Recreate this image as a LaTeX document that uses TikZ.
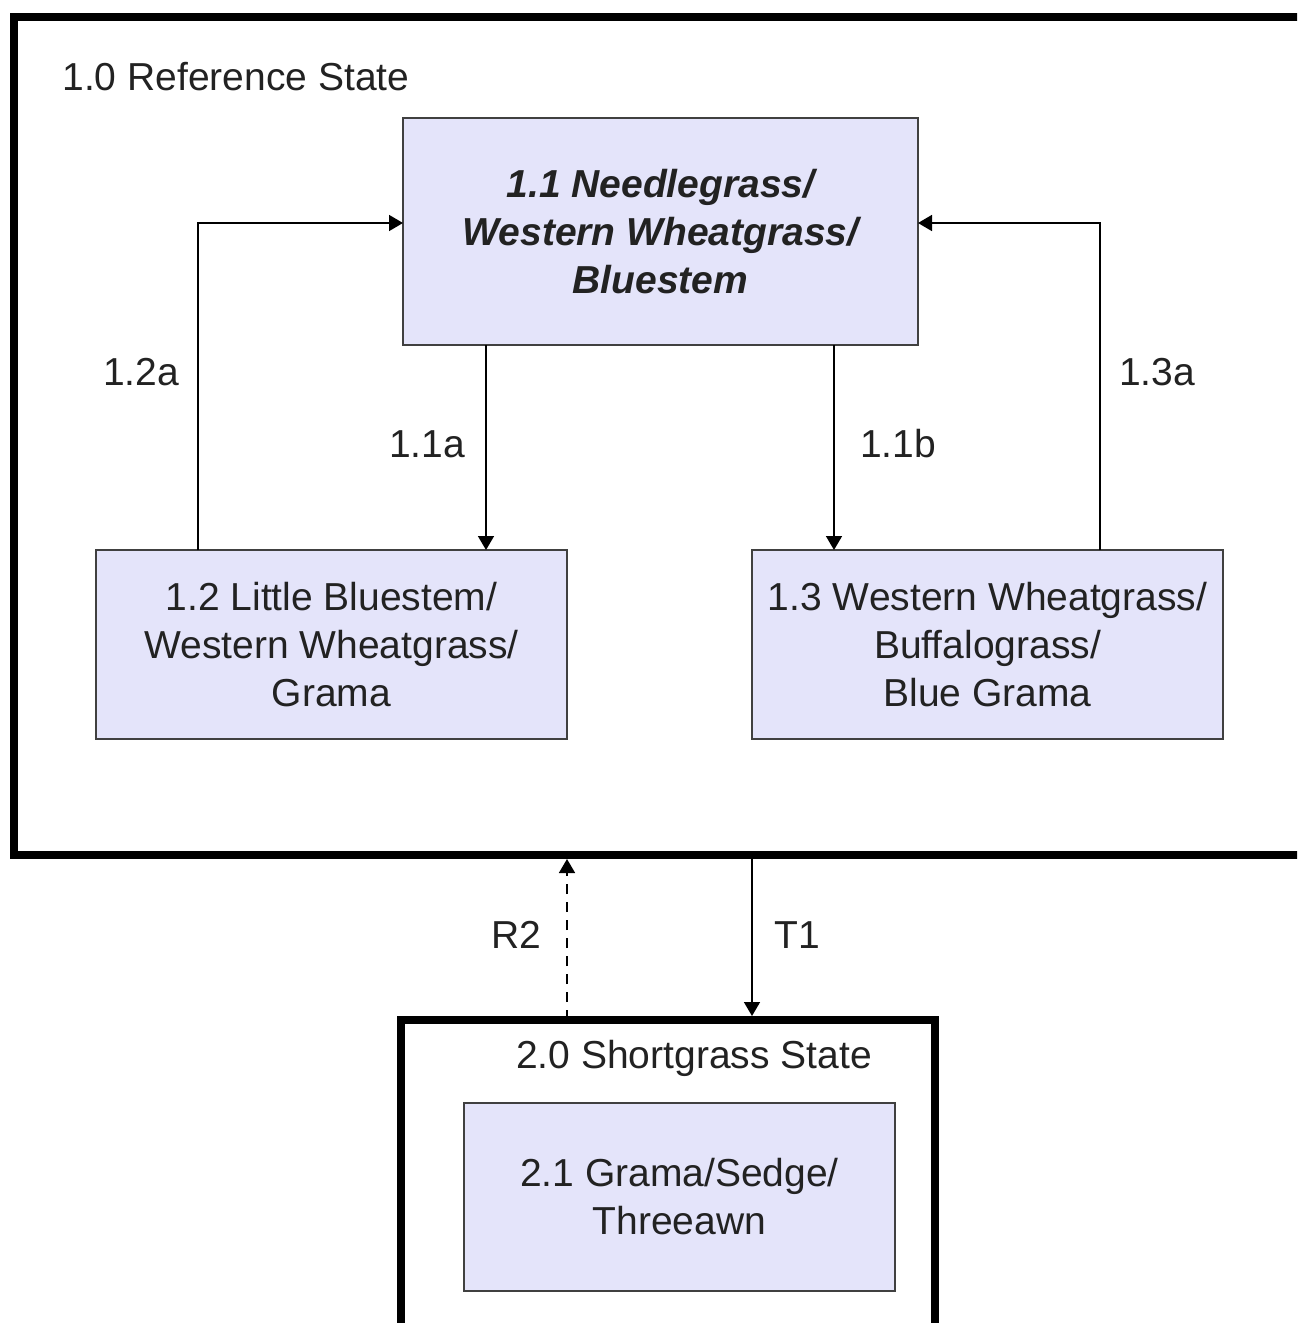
\documentclass[tikz,border=0pt]{standalone}
\usepackage{fontspec}
\setmainfont{Liberation Sans}
\usetikzlibrary{arrows.meta}
\definecolor{boxfill}{RGB}{228,228,250}
\definecolor{txt}{RGB}{34,34,34}
\tikzset{
  phase/.style={draw=black!75, line width=0.7pt, fill=boxfill, align=center, inner sep=0pt, outer sep=0pt, text=txt, font=\fontsize{19.5}{24}\selectfont},
  statebox/.style={draw=black, line width=4pt, inner sep=0pt, outer sep=0pt},
  lbl/.style={text=txt, font=\fontsize{19.5}{24}\selectfont, inner sep=0pt},
  conn/.style={line width=0.8pt, -{Triangle[length=7pt,width=8pt]}},
}
\begin{document}
\begin{tikzpicture}[x=0.5pt,y=-0.5pt]
\useasboundingbox (0,0) rectangle (1297,1323);
\clip (0,0) rectangle (1297,1323);
\fill[white] (0,0) rectangle (1297,1323);
% state boxes
\node[statebox, minimum width=648pt, minimum height=419pt] (state1) at (662,436) {};
\node[statebox, minimum width=267pt, minimum height=160pt] (state2) at (668,1180) {};
\node[lbl, anchor=west] (t1) at (62,77) {1.0 Reference State};
\node[lbl] (t2) at (694,1058) {2.0 Shortgrass State};
% phases
\node[phase, minimum width=257.5pt, minimum height=113.5pt, font=\fontsize{19.5}{24}\selectfont\bfseries\itshape] (n11) at (660.5,231.5) {1.1 Needlegrass/\\Western Wheatgrass/\\Bluestem};
\node[phase, minimum width=235.5pt, minimum height=94.5pt] (n12) at (331.5,644.5) {1.2 Little Bluestem/\\Western Wheatgrass/\\Grama};
\node[phase, minimum width=235.5pt, minimum height=94.5pt] (n13) at (987.5,644.5) {1.3 Western Wheatgrass/\\Buffalograss/\\Blue Grama};
\node[phase, minimum width=215.5pt, minimum height=94pt] (n21) at (679.5,1197) {2.1 Grama/Sedge/\\Threeawn};
% connectors
\draw[conn] ([xshift=-87.25pt]n11.south) -- ([xshift=-87.25pt]n11.south |- n12.north);
\draw[conn] ([xshift=86.75pt]n11.south) -- ([xshift=86.75pt]n11.south |- n13.north);
\draw[conn] ([xshift=-66.75pt]n12.north) |- ([yshift=4.25pt]n11.west);
\draw[conn] ([xshift=56.25pt]n13.north) |- ([yshift=4.25pt]n11.east);
\draw[conn, dashed, dash pattern=on 5pt off 4pt, shorten >=2pt] (state2.north -| n12.east) -- (state1.south -| n12.east);
\draw[conn, shorten >=2pt] (state1.south -| n13.west) -- (state2.north -| n13.west);
% labels
\node[lbl] (l12a) at (141,372) {1.2a};
\node[lbl] (l11a) at (427,444) {1.1a};
\node[lbl] (l11b) at (898,444) {1.1b};
\node[lbl] (l13a) at (1157,372) {1.3a};
\node[lbl] (lr2) at (516,935) {R2};
\node[lbl] (lt1) at (797,935) {T1};
\end{tikzpicture}
\end{document}
